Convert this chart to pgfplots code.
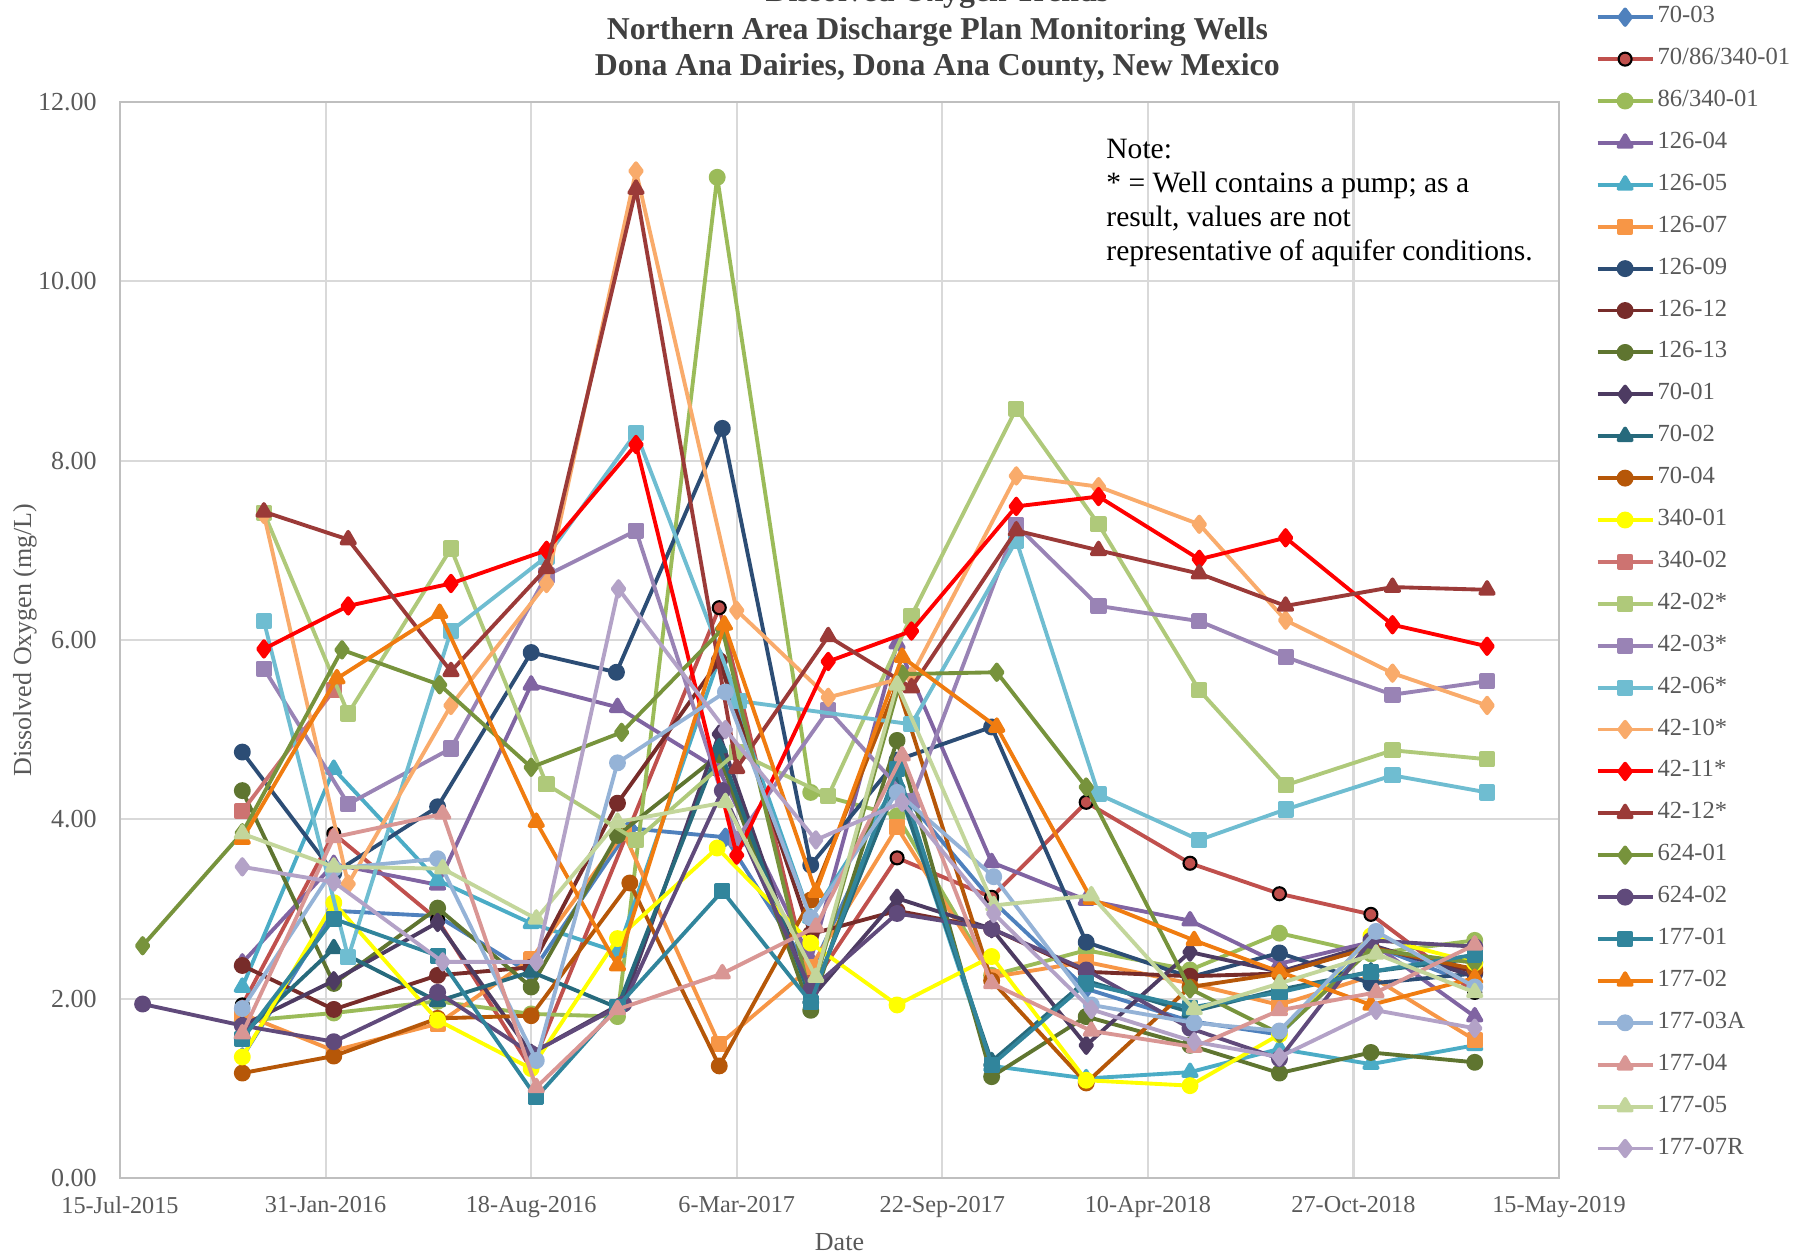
\documentclass[border=0pt]{standalone}
\usepackage{fontspec}
\setmainfont{Liberation Serif}
\usepackage{pgfplots}
\pgfplotsset{compat=1.18}

\definecolor{tickgray}{HTML}{595959}
\definecolor{titlegray}{HTML}{404040}
\definecolor{cA}{HTML}{4F81BD}
\definecolor{cB}{HTML}{C0504D}
\definecolor{cC}{HTML}{9BBB59}
\definecolor{cD}{HTML}{8064A2}
\definecolor{cE}{HTML}{4BACC6}
\definecolor{cF}{HTML}{F79646}
\definecolor{cG}{HTML}{2C4D75}
\definecolor{cH}{HTML}{772C2A}
\definecolor{cI}{HTML}{5F7530}
\definecolor{cJ}{HTML}{4D3B62}
\definecolor{cK}{HTML}{276A7C}
\definecolor{cL}{HTML}{B65708}
\definecolor{cM}{HTML}{FFFF00}
\definecolor{cN}{HTML}{CD7371}
\definecolor{cO}{HTML}{AFC97A}
\definecolor{cP}{HTML}{9983B5}
\definecolor{cQ}{HTML}{6FBDD1}
\definecolor{cR}{HTML}{F9AB6B}
\definecolor{cS}{HTML}{FF0000}
\definecolor{cT}{HTML}{9B3A38}
\definecolor{cU}{HTML}{77933C}
\definecolor{cV}{HTML}{604A7B}
\definecolor{cW}{HTML}{31859C}
\definecolor{cX}{HTML}{F07C10}
\definecolor{cY}{HTML}{95B3D7}
\definecolor{cZ}{HTML}{D99694}
\definecolor{ca}{HTML}{C3D69B}
\definecolor{cb}{HTML}{B3A2C7}

\newcommand\fs{\fontsize{7.4pt}{9.6pt}\selectfont}
\newcommand\fx{\fontsize{6.9pt}{8.5pt}\selectfont}
\newcommand\fl{\fontsize{7.0pt}{8.5pt}\selectfont}
\newcommand\fn{\fontsize{8.4pt}{9.7pt}\selectfont}
\newcommand\ft{\fontsize{9.05pt}{10.5pt}\selectfont\bfseries}

\pgfplotsset{
  cir/.style={mark=*, mark size=1.85pt},
  sq/.style={mark=square*, mark size=1.75pt},
  tri/.style={mark=triangle*, mark size=2.2pt},
  dia/.style={mark=diamond*, mark size=2.2pt},
}

\begin{document}
\begin{tikzpicture}
\useasboundingbox (0mm,0mm) rectangle (180.2mm,125.9mm);
\begin{axis}[
  at={(12mm,8.1mm)}, anchor=south west,
  width=143.9mm, height=107.6mm, scale only axis,
  clip mode=individual,
  xmin=0, xmax=1400, ymin=0, ymax=12,
  xtick={0,200,...,1400},
  xticklabels={15-Jul-2015,31-Jan-2016,18-Aug-2016,6-Mar-2017,22-Sep-2017,10-Apr-2018,27-Oct-2018,15-May-2019},
  ytick={0,2,...,12},
  yticklabels={0.00,2.00,4.00,6.00,8.00,10.00,12.00},
  grid=major,
  major grid style={draw=gray!30, line width=0.6pt},
  axis line style={draw=gray!50, line width=0.7pt},
  tick style={draw=none},
  tick label style={font=\fs, text=tickgray},
  xticklabel style={font=\fx, yshift=-0.6mm},
  yticklabel style={xshift=-1.1mm},
  label style={font=\fs, text=tickgray},
  xlabel={Date},
  ylabel={Dissolved Oxygen (mg/L)},
  xlabel style={at={(axis description cs:0.5,-0.060)}, anchor=center},
  ylabel style={at={(axis description cs:-0.066,0.5)}, anchor=center},
  every axis plot/.append style={line width=1.1pt, line join=round},
  every mark/.append style={line width=0.3pt},
  legend style={at={(axis description cs:1.025,1.0892)}, anchor=north west,
    draw=none, fill=none, inner sep=0pt, font=\fl, text=tickgray,
    row sep=2.09mm, nodes={inner sep=0pt, text height=1.6mm, text depth=0.5mm}},
  legend cell align=left,
  legend image code/.code={
    \draw[mark repeat=2,mark phase=2] plot coordinates {(0cm,0cm) (0.275cm,0cm) (0.55cm,0cm)};
    \path (0.58cm,0cm);
  },
]
% 70-03
\addplot[cA, dia] coordinates {(119,1.35) (208,2.98) (309,2.92) (400,2.28) (496,3.90) (589,3.80) (672,2.30) (756,4.35) (848,3.10) (940,2.11) (1041,1.75) (1128,1.60) (1217,2.60) (1318,2.15)};
% 70/86/340-01
\addplot[cB, cir, mark options={draw=black, fill=cB, line width=0.6pt}] coordinates {(119,1.93) (208,3.84) (309,2.88) (400,1.22) (583,6.36) (672,2.13) (756,3.57) (848,3.13) (940,4.19) (1041,3.51) (1128,3.17) (1217,2.94) (1318,2.07)};
% 86/340-01
\addplot[cC, cir] coordinates {(119,1.75) (208,1.84) (309,1.97) (400,1.83) (484,1.80) (581,11.16) (672,4.30) (756,4.04) (848,2.26) (940,2.54) (1041,2.32) (1128,2.73) (1217,2.50) (1318,2.65)};
% 126-04
\addplot[cD, tri] coordinates {(119,2.40) (208,3.50) (309,3.27) (400,5.50) (484,5.25) (583,4.55) (672,2.43) (756,5.96) (848,3.52) (940,3.10) (1041,2.87) (1128,2.39) (1217,2.63) (1318,1.80)};
% 126-05
\addplot[cE, tri] coordinates {(119,2.13) (208,4.56) (309,3.32) (400,2.84) (484,2.52) (583,5.80) (672,2.90) (756,4.40) (848,1.25) (940,1.11) (1041,1.18) (1128,1.44) (1217,1.27) (1318,1.48)};
% 126-07
\addplot[cF, sq] coordinates {(119,1.83) (208,1.42) (309,1.72) (400,2.44) (490,3.85) (583,1.49) (672,2.35) (756,3.91) (848,2.24) (940,2.41) (1041,2.17) (1128,1.93) (1217,2.25) (1318,1.54)};
% 126-09
\addplot[cG, cir] coordinates {(119,4.75) (208,3.40) (309,4.14) (400,5.86) (483,5.64) (586,8.36) (672,3.49) (756,4.66) (848,5.03) (940,2.63) (1041,2.24) (1128,2.51) (1217,2.17) (1318,2.28)};
% 126-12
\addplot[cH, cir] coordinates {(119,2.37) (208,1.88) (309,2.26) (400,2.35) (484,4.18) (583,5.77) (672,2.72) (756,2.98) (848,2.78) (940,2.30) (1041,2.25) (1128,2.28) (1217,2.58) (1318,2.30)};
% 126-13
\addplot[cI, cir] coordinates {(119,4.32) (208,2.17) (309,3.01) (400,2.13) (484,3.82) (583,4.72) (672,1.87) (756,4.88) (848,1.13) (940,1.80) (1041,1.48) (1128,1.17) (1217,1.40) (1318,1.29)};
% 70-01
\addplot[cJ, dia] coordinates {(119,1.70) (208,2.20) (309,2.85) (400,1.39) (490,1.96) (583,4.95) (672,2.00) (756,3.12) (848,2.78) (940,1.48) (1041,2.52) (1128,2.30) (1217,2.60) (1318,2.25)};
% 70-02
\addplot[cK, tri] coordinates {(119,1.60) (208,2.56) (309,1.97) (400,2.30) (484,1.90) (583,4.80) (672,2.00) (756,4.40) (848,1.30) (940,2.20) (1041,1.85) (1128,2.10) (1217,2.30) (1318,2.45)};
% 70-04
\addplot[cL, cir] coordinates {(119,1.17) (208,1.36) (309,1.78) (400,1.81) (496,3.29) (583,1.25) (672,3.10) (756,5.50) (848,2.20) (940,1.06) (1041,2.13) (1128,2.28) (1217,2.57) (1318,2.33)};
% 340-01
\addplot[cM, cir] coordinates {(119,1.35) (208,3.07) (309,1.76) (400,1.22) (484,2.67) (581,3.68) (672,2.62) (756,1.93) (848,2.47) (940,1.09) (1041,1.03) (1128,1.60) (1217,2.70) (1318,2.40)};
% 340-02
\addplot[cN, sq] coordinates {(119,4.09) (208,5.44)};
% 42-02*
\addplot[cO, sq] coordinates {(140,7.42) (222,5.18) (322,7.02) (415,4.39) (502,3.77) (600,4.75) (689,4.26) (770,6.27) (872,8.58) (952,7.29) (1050,5.44) (1134,4.38) (1238,4.77) (1330,4.67)};
% 42-03*
\addplot[cP, sq] coordinates {(140,5.68) (222,4.17) (322,4.79) (415,6.72) (502,7.22) (600,3.78) (689,5.22) (770,4.20) (872,7.28) (952,6.38) (1050,6.21) (1134,5.81) (1238,5.39) (1330,5.54)};
% 42-06*
\addplot[cQ, sq] coordinates {(140,6.21) (222,2.46) (322,6.10) (415,6.93) (502,8.31) (602,5.32) (770,5.06) (872,7.11) (952,4.28) (1050,3.77) (1134,4.11) (1238,4.49) (1330,4.30)};
% 42-10*
\addplot[cR, dia] coordinates {(140,7.40) (222,3.28) (322,5.27) (415,6.63) (502,11.23) (600,6.33) (689,5.36) (770,5.60) (872,7.83) (952,7.71) (1050,7.29) (1134,6.22) (1238,5.63) (1330,5.27)};
% 42-11*
\addplot[cS, dia] coordinates {(140,5.90) (222,6.38) (322,6.63) (415,7.00) (502,8.18) (600,3.60) (689,5.76) (770,6.10) (872,7.49) (952,7.60) (1050,6.90) (1134,7.14) (1238,6.17) (1330,5.93)};
% 42-12*
\addplot[cT, tri] coordinates {(140,7.43) (222,7.12) (322,5.65) (415,6.80) (502,11.03) (600,4.57) (689,6.04) (770,5.47) (872,7.22) (952,7.00) (1050,6.74) (1134,6.38) (1238,6.59) (1330,6.56)};
% 624-01
\addplot[cU, dia] coordinates {(22,2.59) (119,3.85) (216,5.89) (311,5.50) (400,4.58) (488,4.97) (586,6.12) (672,2.00) (761,5.62) (853,5.64) (940,4.36) (1041,2.11) (1128,1.61) (1217,2.55) (1318,2.40)};
% 624-02
\addplot[cV, cir] coordinates {(22,1.94) (119,1.70) (208,1.52) (309,2.07) (400,1.39) (490,1.94) (586,4.32) (672,2.10) (756,2.95) (848,2.78) (940,2.32) (1041,1.67) (1128,1.33) (1217,2.65) (1318,2.58)};
% 177-01
\addplot[cW, sq] coordinates {(119,1.55) (208,2.89) (309,2.48) (405,0.90) (484,1.91) (586,3.20) (672,1.96) (756,4.56) (848,1.26) (940,2.17) (1041,1.90) (1128,2.07) (1217,2.30) (1318,2.49)};
% 177-02
\addplot[cX, tri] coordinates {(119,3.78) (211,5.57) (311,6.30) (405,3.97) (484,2.37) (588,6.17) (677,3.19) (761,5.81) (853,5.03) (945,3.11) (1045,2.65) (1128,2.30) (1217,1.93) (1318,2.23)};
% 177-03A
\addplot[cY, cir] coordinates {(119,1.89) (208,3.45) (309,3.56) (405,1.31) (484,4.63) (589,5.42) (672,2.90) (756,4.30) (850,3.36) (945,1.93) (1045,1.73) (1128,1.64) (1222,2.75) (1318,2.13)};
% 177-04
\addplot[cZ, tri] coordinates {(119,1.61) (208,3.80) (314,4.06) (405,1.01) (484,1.88) (586,2.28) (677,2.80) (761,4.71) (848,2.17) (945,1.64) (1045,1.46) (1128,1.87) (1222,2.07) (1318,2.60)};
% 177-05
\addplot[ca, tri] coordinates {(119,3.84) (208,3.47) (314,3.45) (405,2.89) (484,3.97) (589,4.19) (677,2.24) (756,5.50) (850,3.04) (945,3.15) (1045,1.88) (1128,2.17) (1222,2.50) (1318,2.07)};
% 177-07R
\addplot[cb, dia] coordinates {(119,3.47) (208,3.30) (314,2.41) (405,2.41) (485,6.57) (589,5.00) (677,3.77) (761,4.19) (850,2.95) (945,1.88) (1045,1.52) (1128,1.35) (1222,1.87) (1318,1.67)};
\legend{70-03,70/86/340-01,86/340-01,126-04,126-05,126-07,126-09,126-12,126-13,70-01,70-02,70-04,340-01,340-02,42-02*,42-03*,42-06*,42-10*,42-11*,42-12*,624-01,624-02,177-01,177-02,177-03A,177-04,177-05,177-07R}

\node[anchor=north west, align=left, font=\fn, text=black, inner sep=0pt]
  at (axis description cs:0.685,0.966)
  {Note:\\* = Well contains a pump; as a\\result, values are not\\representative of aquifer conditions.};

\node[anchor=base, font=\ft, text=titlegray]
  at (axis description cs:0.568,1.0930) {Dissolved Oxygen Trends};
\node[anchor=base, font=\ft, text=titlegray]
  at (axis description cs:0.568,1.0585) {Northern Area Discharge Plan Monitoring Wells};
\node[anchor=base, font=\ft, text=titlegray]
  at (axis description cs:0.568,1.0245) {Dona Ana Dairies, Dona Ana County, New Mexico};
\end{axis}
\end{tikzpicture}
\end{document}
